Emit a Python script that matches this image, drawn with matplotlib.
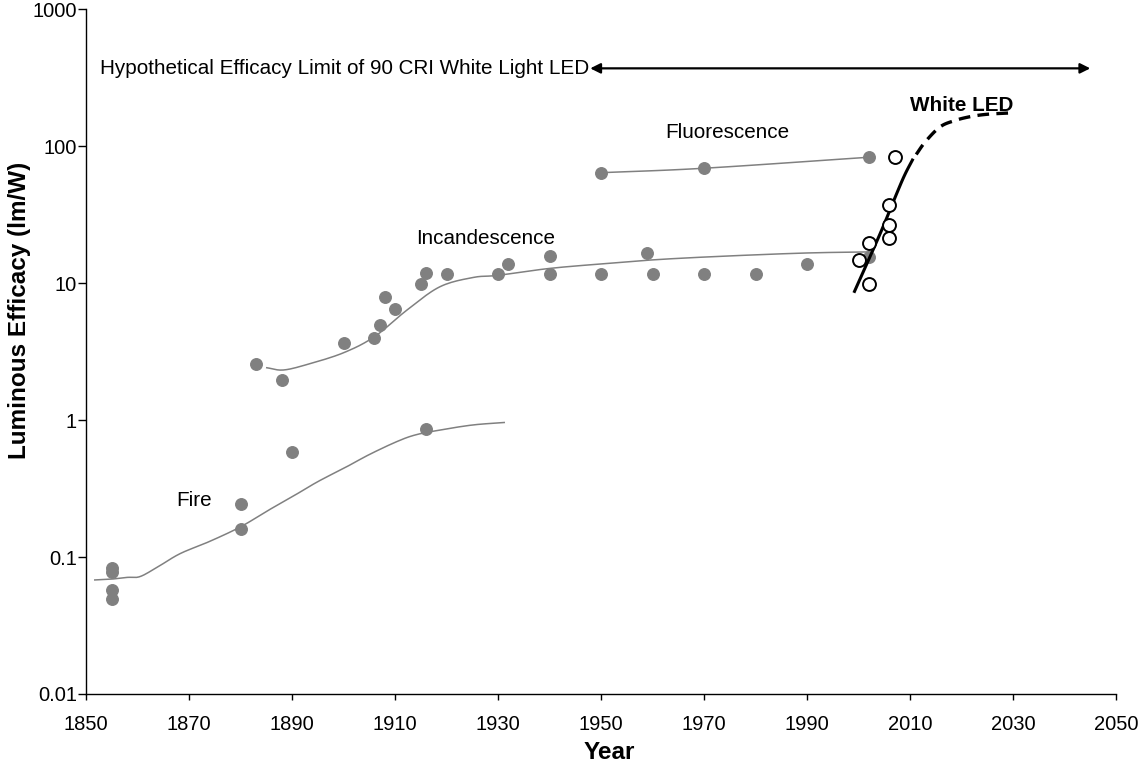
import matplotlib
matplotlib.use("Agg")
import numpy as np
import matplotlib.pyplot as plt
from matplotlib.ticker import FixedLocator, FixedFormatter, NullLocator

plt.rcParams['font.family'] = ['Liberation Sans', 'DejaVu Sans']

# ---- data ----
fire_years = [1855, 1855, 1855, 1855, 1880, 1880, 1890, 1916]
fire_values = [0.083, 0.078, 0.057, 0.049, 0.244, 0.159, 0.588, 0.86]
fire_curve_years = [1851.7, 1855, 1858, 1860.5, 1864, 1868.3, 1874, 1880, 1885, 1890,
                    1895, 1900.6, 1905, 1910.3, 1914, 1918.7, 1925, 1931.2]
fire_curve_values = [0.068, 0.069, 0.071, 0.072, 0.085, 0.106, 0.13, 0.166, 0.215, 0.275,
                     0.355, 0.456, 0.56, 0.695, 0.78, 0.845, 0.92, 0.96]

inc_years = [1883, 1888, 1900, 1906, 1907, 1908, 1910, 1915, 1916, 1920, 1930, 1932,
             1940, 1940, 1950, 1959, 1960, 1970, 1980, 1990, 2002]
inc_values = [2.56, 1.97, 3.67, 3.97, 4.91, 7.9, 6.43, 9.84, 11.8, 11.6, 11.6, 13.8,
              15.8, 11.6, 11.6, 16.7, 11.6, 11.6, 11.6, 13.9, 15.6]
inc_curve_years = [1885.1, 1888.3, 1893, 1900, 1906, 1912.3, 1918.7, 1925.2, 1930,
                   1940, 1951, 1961.5, 1975, 1990, 2002]
inc_curve_values = [2.41, 2.32, 2.55, 3.1, 4.06, 6.35, 9.4, 11.0, 11.4,
                    12.8, 13.9, 14.9, 15.8, 16.6, 16.9]

flu_years = [1950, 1970, 2002]
flu_values = [64, 69, 83]

led_years = [2007, 2006, 2006, 2006, 2002, 2000, 2002]
led_values = [83, 37, 26.4, 21.3, 19.7, 14.7, 9.9]
led_curve_years = [1999.1, 2004.2, 2007.4, 2009, 2010.6]
led_curve_values = [8.5, 23, 45, 62, 81]
led_proj_years = [2011.2, 2013, 2015.8, 2018.5, 2021.6, 2025, 2029.7]
led_proj_values = [87, 108, 138, 153, 164, 171, 175]

limit_years = [1947.9, 2045]
limit_value = 370

x_ticks = [1850, 1870, 1890, 1910, 1930, 1950, 1970, 1990, 2010, 2030, 2050]
y_ticks = [0.01, 0.1, 1, 10, 100, 1000]
y_tick_labels = ['0.01', '0.1', '1', '10', '100', '1000']


def smooth(xs, ys, n=12):
    """Catmull-Rom rendering of a trend curve through its control points (log space)."""
    x = np.asarray(xs, float)
    y = np.log10(np.asarray(ys, float))
    px = np.concatenate([[2 * x[0] - x[1]], x, [2 * x[-1] - x[-2]]])
    py = np.concatenate([[2 * y[0] - y[1]], y, [2 * y[-1] - y[-2]]])
    ox, oy = [], []
    t = np.linspace(0, 1, n, endpoint=False)
    for i in range(1, len(px) - 2):
        for arr, out in ((px, ox), (py, oy)):
            p0, p1, p2, p3 = arr[i - 1], arr[i], arr[i + 1], arr[i + 2]
            out.extend(0.5 * ((2 * p1) + (-p0 + p2) * t + (2 * p0 - 5 * p1 + 4 * p2 - p3) * t ** 2
                              + (-p0 + 3 * p1 - 3 * p2 + p3) * t ** 3))
    ox.append(x[-1]); oy.append(y[-1])
    return np.array(ox), 10 ** np.array(oy)


# ---- figure ----
fig = plt.figure(figsize=(11.47, 7.68), dpi=100)
ax = fig.add_axes([0.075, 0.0964, 0.898, 0.8916])

grey = '#808080'
ax.plot(*smooth(fire_curve_years, fire_curve_values), color=grey, lw=1.1)
ax.plot(*smooth(inc_curve_years, inc_curve_values), color=grey, lw=1.1)
ax.plot(*smooth(flu_years, flu_values), color=grey, lw=1.1)

ax.plot(fire_years, fire_values, 'o', color=grey, ms=8.3, mec=grey)
ax.plot(inc_years, inc_values, 'o', color=grey, ms=8.3, mec=grey)
ax.plot(flu_years, flu_values, 'o', color=grey, ms=8.3, mec=grey)

ax.plot(*smooth(led_curve_years, led_curve_values), color='black', lw=2.2, solid_capstyle='butt')
ax.plot(*smooth(led_proj_years, led_proj_values), color='black', lw=2.4, dashes=(3.5, 2.2))
ax.plot(led_years, led_values, 'o', mfc='white', mec='black', mew=1.4, ms=9.3)

ax.annotate('', xy=(limit_years[0], limit_value), xytext=(limit_years[1], limit_value),
            arrowprops=dict(arrowstyle='<|-|>', color='black', lw=1.6,
                            mutation_scale=15, shrinkA=0, shrinkB=0))
ax.text(limit_years[0] - 0.2, limit_value, 'Hypothetical Efficacy Limit of 90 CRI White Light LED',
        ha='right', va='center', fontsize=14.9)

ax.text(1867.5, 0.26, 'Fire', ha='left', va='center', fontsize=14.9)
ax.text(1927.5, 21, 'Incandescence', ha='center', va='center', fontsize=14.9)
ax.text(1974.5, 125, 'Fluorescence', ha='center', va='center', fontsize=14.9)
ax.text(2020, 198, 'White LED', ha='center', va='center', fontsize=14.9, fontweight='bold')

ax.set_yscale('log')
ax.set_xlim(1850, 2050)
ax.set_ylim(0.01, 1000)
ax.xaxis.set_major_locator(FixedLocator(x_ticks))
ax.yaxis.set_major_locator(FixedLocator(y_ticks))
ax.yaxis.set_major_formatter(FixedFormatter(y_tick_labels))
ax.yaxis.set_minor_locator(NullLocator())
ax.tick_params(axis='x', direction='out', length=4, width=1, labelsize=14.5, pad=11)
ax.tick_params(axis='y', direction='out', length=6, width=1, labelsize=14.5, pad=0.5)
for s in ['top', 'right']:
    ax.spines[s].set_visible(False)
for s in ['left', 'bottom']:
    ax.spines[s].set_linewidth(1.0)

ax.set_xlabel('Year', fontsize=17.5, fontweight='bold')
ax.set_ylabel('Luminous Efficacy (lm/W)', fontsize=17.5, fontweight='bold')
ax.yaxis.label.set_va('center')
ax.yaxis.set_label_coords(-0.065, 0.56)
ax.xaxis.set_label_coords(0.508, -0.0685)

fig.savefig('out.png', dpi=100)
